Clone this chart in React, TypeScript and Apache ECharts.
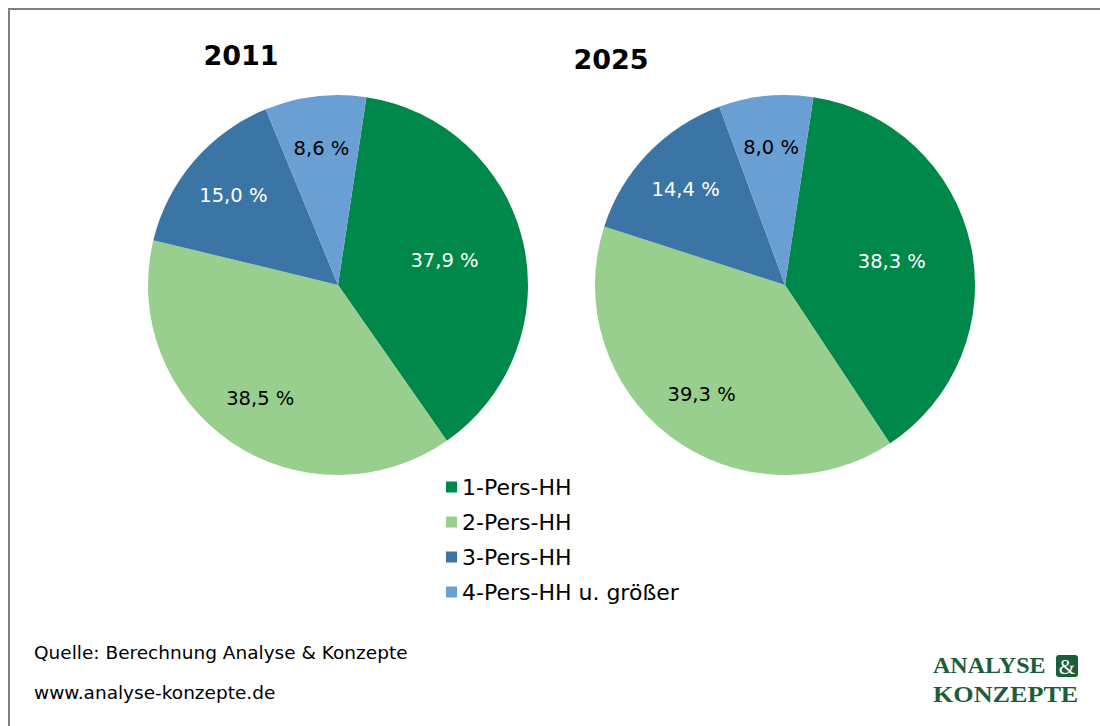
import React, { useEffect, useRef } from "react";
import * as echarts from "echarts";

const categories = ["1-Pers-HH", "2-Pers-HH", "3-Pers-HH", "4-Pers-HH u. größer"];
const years = ["2011", "2025"];
const values2011 = [37.9, 38.5, 15.0, 8.6];
const values2025 = [38.3, 39.3, 14.4, 8.0];
const sourceText = "Quelle: Berechnung Analyse & Konzepte";
const urlText = "www.analyse-konzepte.de";

const COLORS = ["#00884b", "#99cf8e", "#3a75a6", "#6a9fd4"];
const LABEL_COLORS = ["#ffffff", "#000000", "#ffffff", "#000000"];
const FONT = "'DejaVu Sans', Verdana, sans-serif";
const LOGO_GREEN = "#1c5d3b";

const R = 190;
const CENTERS: [number, number][] = [
  [338, 285],
  [785, 285],
];
// inner radius ratios of the invisible label rings (label sits mid-ring)
const LABEL_RINGS = [
  { inner: 0.12, show: [true, false, false, false] },
  { inner: 0.42, show: [false, true, true, true] },
];

function fmt(v: number) {
  return v.toFixed(1).replace(".", ",") + " %";
}

export default function App() {
  const ref = useRef<HTMLDivElement>(null);

  useEffect(() => {
    if (!ref.current) return;
    const chart = echarts.init(ref.current, undefined, { renderer: "svg" });
    const datasets = [values2011, values2025];

    const series: any[] = [];
    datasets.forEach((vals, i) => {
      series.push({
        type: "pie",
        name: years[i] + "-pie",
        center: CENTERS[i],
        radius: [0, R],
        startAngle: 81.4,
        clockwise: true,
        silent: true,
        label: { show: false },
        labelLine: { show: false },
        itemStyle: { borderWidth: 0 },
        data: vals.map((v, k) => ({
          name: categories[k],
          value: v,
          itemStyle: { color: COLORS[k] },
        })),
      });
    });
    datasets.forEach((vals, i) => {
      LABEL_RINGS.forEach((ring, j) => {
        series.push({
          type: "pie",
          name: years[i] + "-labels-" + j,
          center: CENTERS[i],
          radius: [R * ring.inner, R],
          startAngle: 81.4,
          clockwise: true,
          silent: true,
          legendHoverLink: false,
          itemStyle: { color: "rgba(0,0,0,0)", borderWidth: 0 },
          labelLine: { show: false },
          label: {
            show: true,
            position: "inside",
            fontFamily: FONT,
            fontSize: 19.5,
            formatter: (p: any) => fmt(p.value),
          },
          data: vals.map((v, k) => ({
            name: categories[k],
            value: v,
            itemStyle: { color: "rgba(0,0,0,0)" },
            label: { show: ring.show[k], color: LABEL_COLORS[k] },
          })),
        });
      });
    });

    chart.setOption({
      animation: false,
      backgroundColor: "#ffffff",
      color: COLORS,
      legend: {
        orient: "vertical",
        left: 441,
        top: 471,
        itemWidth: 11,
        itemHeight: 11,
        itemGap: 13,
        icon: "rect",
        selectedMode: false,
        data: categories,
        textStyle: {
          fontFamily: FONT,
          fontSize: 22,
          lineHeight: 22,
          color: "#000000",
        },
      },
      series,
      graphic: [
        {
          type: "line",
          shape: { x1: 8, y1: 9, x2: 1100, y2: 9 },
          style: { stroke: "#808080", lineWidth: 2 },
        },
        {
          type: "line",
          shape: { x1: 9, y1: 8, x2: 9, y2: 726 },
          style: { stroke: "#808080", lineWidth: 2 },
        },
        {
          type: "text",
          x: 241,
          y: 55,
          style: {
            text: years[0],
            fontFamily: FONT,
            fontWeight: "bold",
            fontSize: 27,
            fill: "#000000",
            textAlign: "center",
            textVerticalAlign: "middle",
          },
        },
        {
          type: "text",
          x: 611,
          y: 59,
          style: {
            text: years[1],
            fontFamily: FONT,
            fontWeight: "bold",
            fontSize: 27,
            fill: "#000000",
            textAlign: "center",
            textVerticalAlign: "middle",
          },
        },
        {
          type: "text",
          x: 34,
          y: 652,
          style: {
            text: sourceText,
            fontFamily: FONT,
            fontSize: 18.5,
            fill: "#000000",
            textVerticalAlign: "middle",
          },
        },
        {
          type: "text",
          x: 34,
          y: 692,
          style: {
            text: urlText,
            fontFamily: FONT,
            fontSize: 18.5,
            fill: "#000000",
            textVerticalAlign: "middle",
          },
        },
        {
          type: "text",
          x: 933,
          y: 665,
          style: {
            text: "ANALYSE",
            fontFamily: "'Liberation Serif', serif",
            fontWeight: "bold",
            fontSize: 24,
            fill: LOGO_GREEN,
            textVerticalAlign: "middle",
          },
        },
        {
          type: "rect",
          shape: { x: 1056, y: 655, width: 22, height: 22, r: 3 },
          style: { fill: LOGO_GREEN },
        },
        {
          type: "text",
          x: 1067,
          y: 667,
          style: {
            text: "&",
            fontFamily: "'Liberation Serif', serif",
            fontSize: 21,
            fill: "#ffffff",
            textAlign: "center",
            textVerticalAlign: "middle",
          },
        },
        {
          type: "text",
          x: 933,
          y: 694,
          scaleX: 1.09,
          style: {
            text: "KONZEPTE",
            fontFamily: "'Liberation Serif', serif",
            fontWeight: "bold",
            fontSize: 24,
            fill: LOGO_GREEN,
            textVerticalAlign: "middle",
          },
        },
      ],
    });
    return () => chart.dispose();
  }, []);

  return (
    <div
      ref={ref}
      style={{ position: "fixed", left: 0, top: 0, width: 1100, height: 726 }}
    />
  );
}
